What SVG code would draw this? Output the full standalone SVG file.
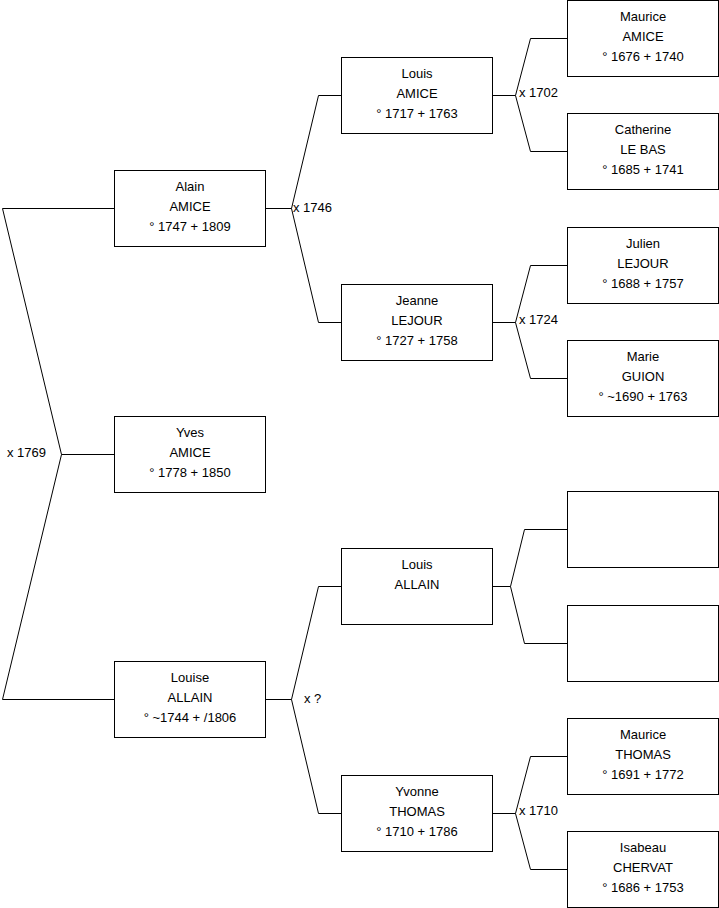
<svg xmlns="http://www.w3.org/2000/svg" width="719" height="908" viewBox="0 0 719 908">
<style>
.box{fill:#fff;stroke:#000;stroke-width:1}
.ln{fill:none;stroke:#000;stroke-width:1}
text{font-family:"Liberation Sans",Arial,sans-serif;font-size:13px;fill:#000}
.c{text-anchor:middle}
</style>
<rect width="719" height="908" fill="#fff"/>
<g id="connectors">
<path class="ln" d="M114.5,208.5 H2.5 L61.5,454.5 L2.5,699.5 H114.5 M61.5,454.5 H114.5"/>
<path class="ln" d="M265.5,208.5 H291.5 M341.5,95.5 H318.5 L291.5,208.5 L318.5,322.5 H341.5"/>
<path class="ln" d="M265.5,699.5 H291.5 M341.5,586.5 H318.5 L291.5,699.5 L318.5,813.5 H341.5"/>
<path class="ln" d="M492.5,95.5 H515.5 M567.5,38.5 H530.5 L515.5,95.5 L530.5,151.5 H567.5"/>
<path class="ln" d="M492.5,322.5 H515.5 M567.5,265.5 H530.5 L515.5,322.5 L530.5,378.5 H567.5"/>
<path class="ln" d="M492.5,586.5 H510.5 M567.5,529.5 H524.5 L510.5,586.5 L524.5,643.5 H567.5"/>
<path class="ln" d="M492.5,813.5 H515.5 M567.5,756.5 H530.5 L515.5,813.5 L530.5,869.5 H567.5"/>
<text x="7" y="457">x 1769</text>
<text x="293" y="212">x 1746</text>
<text x="304" y="703">x ?</text>
<text x="519" y="97">x 1702</text>
<text x="519" y="324">x 1724</text>
<text x="519" y="815">x 1710</text>
</g>
<g id="alain"><rect class="box" x="114.5" y="170.5" width="151" height="76"/><text class="c" x="190" y="191">Alain</text><text class="c" x="190" y="211">AMICE</text><text class="c" x="190" y="231">° 1747 + 1809</text></g>
<g id="yves"><rect class="box" x="114.5" y="416.5" width="151" height="76"/><text class="c" x="190" y="437">Yves</text><text class="c" x="190" y="457">AMICE</text><text class="c" x="190" y="477">° 1778 + 1850</text></g>
<g id="louise"><rect class="box" x="114.5" y="661.5" width="151" height="76"/><text class="c" x="190" y="682">Louise</text><text class="c" x="190" y="702">ALLAIN</text><text class="c" x="190" y="722">° ~1744 + /1806</text></g>
<g id="louis-amice"><rect class="box" x="341.5" y="57.5" width="151" height="76"/><text class="c" x="417" y="78">Louis</text><text class="c" x="417" y="98">AMICE</text><text class="c" x="417" y="118">° 1717 + 1763</text></g>
<g id="jeanne"><rect class="box" x="341.5" y="284.5" width="151" height="76"/><text class="c" x="417" y="305">Jeanne</text><text class="c" x="417" y="325">LEJOUR</text><text class="c" x="417" y="345">° 1727 + 1758</text></g>
<g id="louis-allain"><rect class="box" x="341.5" y="548.5" width="151" height="76"/><text class="c" x="417" y="569">Louis</text><text class="c" x="417" y="589">ALLAIN</text></g>
<g id="yvonne"><rect class="box" x="341.5" y="775.5" width="151" height="76"/><text class="c" x="417" y="796">Yvonne</text><text class="c" x="417" y="816">THOMAS</text><text class="c" x="417" y="836">° 1710 + 1786</text></g>
<g id="maurice-amice"><rect class="box" x="567.5" y="0.5" width="151" height="76"/><text class="c" x="643" y="21">Maurice</text><text class="c" x="643" y="41">AMICE</text><text class="c" x="643" y="61">° 1676 + 1740</text></g>
<g id="catherine"><rect class="box" x="567.5" y="113.5" width="151" height="76"/><text class="c" x="643" y="134">Catherine</text><text class="c" x="643" y="154">LE BAS</text><text class="c" x="643" y="174">° 1685 + 1741</text></g>
<g id="julien"><rect class="box" x="567.5" y="227.5" width="151" height="76"/><text class="c" x="643" y="248">Julien</text><text class="c" x="643" y="268">LEJOUR</text><text class="c" x="643" y="288">° 1688 + 1757</text></g>
<g id="marie"><rect class="box" x="567.5" y="340.5" width="151" height="76"/><text class="c" x="643" y="361">Marie</text><text class="c" x="643" y="381">GUION</text><text class="c" x="643" y="401">° ~1690 + 1763</text></g>
<g id="empty1"><rect class="box" x="567.5" y="491.5" width="151" height="76"/></g>
<g id="empty2"><rect class="box" x="567.5" y="605.5" width="151" height="76"/></g>
<g id="maurice-thomas"><rect class="box" x="567.5" y="718.5" width="151" height="76"/><text class="c" x="643" y="739">Maurice</text><text class="c" x="643" y="759">THOMAS</text><text class="c" x="643" y="779">° 1691 + 1772</text></g>
<g id="isabeau"><rect class="box" x="567.5" y="831.5" width="151" height="76"/><text class="c" x="643" y="852">Isabeau</text><text class="c" x="643" y="872">CHERVAT</text><text class="c" x="643" y="892">° 1686 + 1753</text></g>
</svg>
